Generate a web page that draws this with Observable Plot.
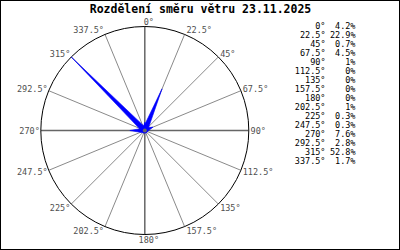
<!DOCTYPE html>
<html><head><meta charset="utf-8">
<script src="https://cdn.jsdelivr.net/npm/d3@7"></script>
<script src="https://cdn.jsdelivr.net/npm/@observablehq/plot@0.6"></script>
<style>
body{margin:0;background:#fff}
#wrap{position:relative;width:400px;height:250px;overflow:hidden;background:#fff}
#wrap svg{position:absolute;top:0}
#frame{position:absolute;left:0;top:0;width:400px;height:250px;box-sizing:border-box;border:1px solid #000;pointer-events:none;z-index:5}
</style></head><body><div id="wrap"><div id="frame"></div></div>
<script>
const title = "Rozdělení směru větru 23.11.2025";
const directions = [0,22.5,45,67.5,90,112.5,135,157.5,180,202.5,225,247.5,270,292.5,315,337.5];
const percents = [4.2,22.9,0.7,4.5,1,0,0,0,0,1,0.3,0.3,7.6,2.8,52.8,1.7];
const dirLabels = ["0°","22.5°","45°","67.5°","90°","112.5°","135°","157.5°","180°","202.5°","225°","247.5°","270°","292.5°","315°","337.5°"];
const pctLabels = ["4.2%","22.9%","0.7%","4.5%","1%","0%","0%","0%","0%","1%","0.3%","0.3%","7.6%","2.8%","52.8%","1.7%"];

const cx = 144.3, cy = 130, R = 104;
const rad = d => d * Math.PI / 180;
const vmax = d3.max(percents);
const rows = directions.map((d, i) => ({d, label: dirLabels[i], pct: pctLabels[i], v: percents[i]}));

const wedges = [];
rows.forEach(r => {
  if (r.v <= 0) return;
  const L = r.v / vmax, t = rad(r.d), w = 2.6 / R;
  wedges.push(
    {d: r.d, x: w * Math.cos(t), y: -w * Math.sin(t)},
    {d: r.d, x: L * Math.sin(t), y: L * Math.cos(t)},
    {d: r.d, x: -w * Math.cos(t), y: w * Math.sin(t)}
  );
});

const lx = r => Math.sin(rad(r.d));
const ly = r => Math.cos(rad(r.d)) * (1 + 5 / R);
const labStyle = {fill: "#505050", fontSize: 8.5, lineAnchor: "middle"};

const rose = Plot.plot({
  width: 400, height: 250, margin: 0,
  x: {domain: [-1, 1], range: [cx - R, cx + R], axis: null},
  y: {domain: [-1, 1], range: [cy + R, cy - R], axis: null},
  style: {fontFamily: "'DejaVu Sans Mono', monospace", fontSize: "8.5px", background: "#fff", overflow: "visible"},
  marks: [
    Plot.link(rows.filter(r => r.d % 90 !== 0), {x1: () => 0, y1: () => 0, x2: lx, y2: r => Math.cos(rad(r.d)), stroke: "#8a8a8a", strokeWidth: 1}),
    Plot.link(rows.filter(r => r.d % 90 === 0), {x1: () => 0, y1: () => 0, x2: lx, y2: r => Math.cos(rad(r.d)), stroke: "#666", strokeWidth: 1.5}),
    Plot.dot([0], {x: () => 0, y: () => 0, r: R, stroke: "#000", fill: "none", strokeWidth: 1}),
    Plot.line(wedges, {x: "x", y: "y", z: "d", fill: "#0000ff", stroke: "#0000ff", strokeWidth: 0.6}),
    Plot.dot([0], {x: () => 0, y: () => 0, r: 2, fill: "#666", stroke: "none"}),
    Plot.text(rows.filter(r => r.d > 0 && r.d < 180), {x: lx, y: ly, text: "label", textAnchor: "start", dx: 1.8, dy: 0.5, ...labStyle}),
    Plot.text(rows.filter(r => r.d > 180), {x: lx, y: ly, text: "label", textAnchor: "end", dx: -1, dy: 0.5, ...labStyle}),
    Plot.text(rows.filter(r => r.d === 0 || r.d === 180), {x: lx, y: ly, text: "label", textAnchor: "middle", dx: 4, dy: 0.5, ...labStyle}),
    Plot.text([title], {frameAnchor: "top", dy: 9, fontWeight: "bold", fontSize: 11.5, fill: "#000", lineAnchor: "middle"})
  ]
});

const table = Plot.plot({
  width: 118, height: 250, margin: 0,
  x: {type: "point", domain: ["dir", "pct"], range: [44.5, 75], padding: 0, axis: null},
  y: {type: "point", domain: dirLabels, range: [25.3, 162.6], padding: 0, axis: null},
  style: {fontFamily: "'DejaVu Sans Mono', monospace", fontSize: "8.5px", background: "transparent", overflow: "visible"},
  marks: [
    Plot.text(rows, {x: () => "dir", y: "label", text: "label", textAnchor: "end", fill: "#000", fontSize: 8.5, lineAnchor: "middle"}),
    Plot.text(rows, {x: () => "pct", y: "label", text: "pct", textAnchor: "end", fill: "#000", fontSize: 8.5, lineAnchor: "middle"})
  ]
});

const wrap = document.getElementById("wrap");
rose.style.left = "0px";
table.style.left = "280px";
wrap.appendChild(rose);
wrap.appendChild(table);
</script>
</body></html>
